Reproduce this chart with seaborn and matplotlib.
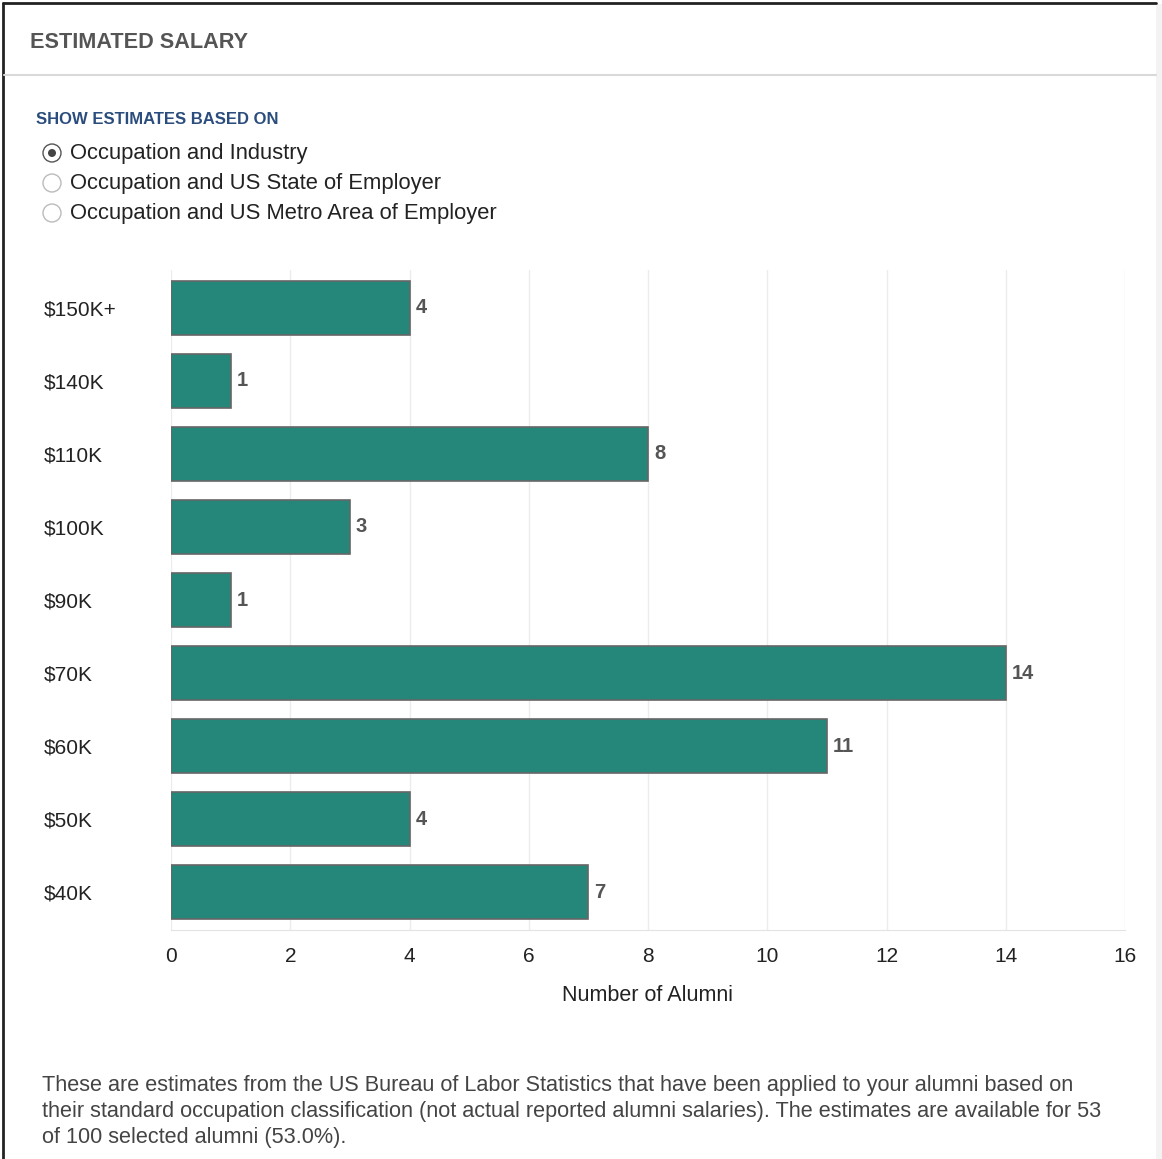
import matplotlib
matplotlib.use('Agg')
import matplotlib.pyplot as plt
import seaborn as sns
import pandas as pd
from matplotlib.patches import Rectangle, Circle
from matplotlib.lines import Line2D

# data
salary = ['$150K+', '$140K', '$110K', '$100K', '$90K', '$70K', '$60K', '$50K', '$40K']
alumni = [4, 1, 8, 3, 1, 14, 11, 4, 7]
options = ['Occupation and Industry', 'Occupation and US State of Employer',
           'Occupation and US Metro Area of Employer']

df = pd.DataFrame({'salary': salary, 'alumni': alumni})

sns.set_style('white')
plt.rcParams['font.family'] = ['Liberation Sans', 'DejaVu Sans']

W, H = 1162, 1159
fig = plt.figure(figsize=(W / 100, H / 100), dpi=100)
ax = fig.add_axes([171 / W, 1 - 930 / H, (1125 - 171) / W, (930 - 270) / H])

sns.barplot(data=df, x='alumni', y='salary', orient='h', color='#25877a',
            edgecolor='#666666', linewidth=1.2, width=0.74, saturation=1, ax=ax)

for i, v in enumerate(alumni):
    ax.text(v + 0.1, i, str(v), va='center', ha='left', fontsize=14.5,
            fontweight='bold', color='#555555')

ax.set_xlim(0, 16)
ax.set_ylim(8.52, -0.52)
ax.set_xticks(range(0, 17, 2))
ax.xaxis.grid(True, color='#ececec', linewidth=1)
ax.set_axisbelow(True)
for s in ['top', 'right', 'left']:
    ax.spines[s].set_visible(False)
ax.spines['bottom'].set_color('#e3e3e3')
ax.tick_params(axis='x', length=0, pad=12, labelsize=15, labelcolor='#222222')
ax.tick_params(axis='y', length=0, pad=(171 - 44) * 0.72, labelsize=15, labelcolor='#222222')
for lab in ax.get_yticklabels():
    lab.set_horizontalalignment('left')
ax.set_ylabel('')
ax.set_xlabel('Number of Alumni', fontsize=15.5, color='#222222', labelpad=14)

# panel frame and header
fig.lines.append(Line2D([3 / W, 3 / W], [0, 1 - 3 / H], transform=fig.transFigure,
                        color='#222222', linewidth=2))
fig.lines.append(Line2D([3 / W, 1156 / W], [1 - 3 / H] * 2, transform=fig.transFigure,
                        color='#222222', linewidth=2))
fig.patches.append(Rectangle((1156 / W, 0), 6 / W, 1 - 4 / H, transform=fig.transFigure,
                             facecolor='#f3f3f3', edgecolor='none'))
fig.lines.append(Line2D([4 / W, 1156 / W], [1 - 75 / H] * 2,
                        transform=fig.transFigure, color='#d9d9d9', linewidth=1.5))
fig.text(30 / W, 1 - 43 / H, 'ESTIMATED SALARY', fontsize=15.6,
         fontweight='bold', color='#555555', va='center')
fig.text(36 / W, 1 - 120 / H, 'SHOW ESTIMATES BASED ON', fontsize=12,
         fontweight='bold', color='#2b4d7e', va='center')

for k, opt in enumerate(options):
    y = 1 - (153 + 30 * k) / H
    fig.patches.append(Circle((52 / W, y), 9 / W, transform=fig.transFigure,
                              facecolor='white', edgecolor='#555555' if k == 0 else '#bbbbbb',
                              linewidth=1))
    if k == 0:
        fig.patches.append(Circle((52 / W, y), 4 / W, transform=fig.transFigure,
                                  facecolor='#444444', edgecolor='none'))
    fig.text(70 / W, y, opt, fontsize=15.8, color='#222222', va='center')

fig.text(42 / W, 1 - 1075 / H,
         'These are estimates from the US Bureau of Labor Statistics that have been applied to your alumni based on\n'
         'their standard occupation classification (not actual reported alumni salaries). The estimates are available for 53\n'
         'of 100 selected alumni (53.0%).',
         fontsize=15.6, color='#444444', va='top', linespacing=1.32)

fig.savefig('out.png', dpi=100, facecolor='white')
